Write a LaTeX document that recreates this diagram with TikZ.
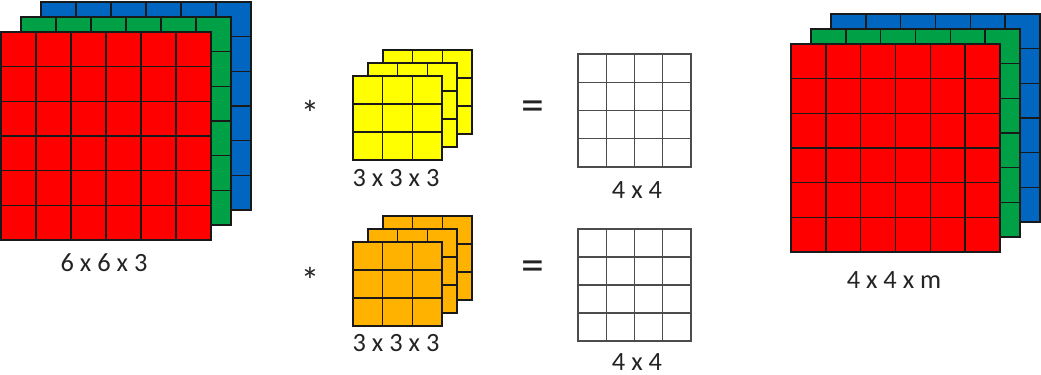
\documentclass[tikz,border=0pt]{standalone}
\usepackage{fontspec}
\setmainfont{Carlito}
\usepackage{xcolor}
\usepackage{tikz}
\usetikzlibrary{positioning}

\definecolor{chred}{RGB}{255,0,0}
\definecolor{chgreen}{RGB}{0,160,70}
\definecolor{chblue}{RGB}{0,102,192}
\definecolor{kyellow}{RGB}{255,255,0}
\definecolor{korange}{RGB}{255,178,0}
\definecolor{txt}{RGB}{35,35,35}

% one layer: top-left x, top-left y, width, height, cells, fill
\newcommand{\gridlayer}[6]{%
  \filldraw[fill=#6, cell] (#1,#2) rectangle ++(#3,#4);
  \foreach \k in {2,...,#5}{
    \draw[cell] ({#1+(\k-1)*#3/#5},#2) -- ++(0,#4);
    \draw[cell] (#1,{#2+(\k-1)*#4/#5}) -- ++(#3,0);
  }%
}

\begin{document}
\begin{tikzpicture}[x=0.02cm, y=-0.02cm,
  cell/.style={draw=black!90, line width=0.8pt},
  dim/.style={font=\fontsize{15}{17}\selectfont, text=txt, inner sep=1pt},
  op/.style={font=\fontsize{26}{28}\selectfont, text=txt, inner sep=0pt},
  star/.style={font=\fontsize{21}{23}\selectfont, text=txt, inner sep=0pt}]
\useasboundingbox (0,0) rectangle (1041,375);

% input volume
\gridlayer{41}{2}{210}{208}{6}{chblue}
\gridlayer{21}{17}{210}{208}{6}{chgreen}
\gridlayer{1}{32}{210}{208}{6}{chred}
\node[dim] (lin) at (104,263) {6 x 6 x 3};

% first filter
\node[star] (star1) at (310,113) {*};
\gridlayer{383}{50}{89}{84}{3}{kyellow}
\gridlayer{368}{63}{89}{84}{3}{kyellow}
\gridlayer{353}{76}{89}{84}{3}{kyellow}
\node[dim] (lf1) at (396,178) {3 x 3 x 3};

% second filter
\node[star] (star2) at (310,280) {*};
\gridlayer{383}{216}{89}{84}{3}{korange}
\gridlayer{368}{229}{89}{84}{3}{korange}
\gridlayer{353}{242}{89}{84}{3}{korange}
\node[dim] (lf2) at (396,343) {3 x 3 x 3};

% results
\node[op] (eq1) at (533,111) {=};
\node[op] (eq2) at (533,271) {=};
\begin{scope}[cell/.style={draw=black!70, line width=0.7pt}]
  \gridlayer{578}{54}{113}{113}{4}{white}
  \gridlayer{578}{229}{113}{112}{4}{white}
\end{scope}
\node[dim] (lr1) at (637,190) {4 x 4};
\node[dim] (lr2) at (637,362) {4 x 4};

% output volume
\gridlayer{831}{14}{209}{208}{6}{chblue}
\gridlayer{811}{29}{209}{208}{6}{chgreen}
\gridlayer{791}{44}{209}{208}{6}{chred}
\node[dim] (lout) at (894,280) {4 x 4 x m};
\end{tikzpicture}
\end{document}
